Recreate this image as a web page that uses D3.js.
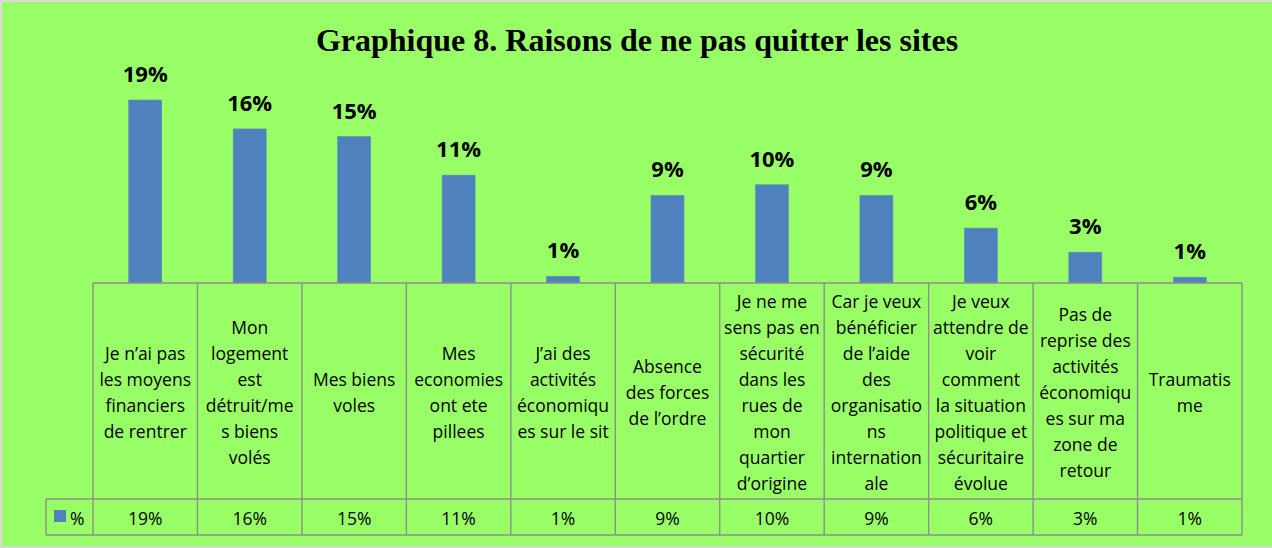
<!DOCTYPE html>
<html>
<head>
<meta charset="utf-8">
<script src="https://cdn.jsdelivr.net/npm/d3@7"></script>
<style>
  html, body { margin: 0; padding: 0; background: #99ff66; }
  svg { display: block; }
</style>
</head>
<body>
<svg id="chart" width="1272" height="548"></svg>
<script>
const title = "Graphique 8. Raisons de ne pas quitter les sites";
const seriesName = "%";
const categories = [
  "Je n’ai pas\nles moyens\nfinanciers\nde rentrer",
  "Mon\nlogement\nest\ndétruit/me\ns biens\nvolés",
  "Mes biens\nvoles",
  "Mes\neconomies\nont ete\npillees",
  "J’ai des\nactivités\néconomiqu\nes sur le sit",
  "Absence\ndes forces\nde l’ordre",
  "Je ne me\nsens pas en\nsécurité\ndans les\nrues de\nmon\nquartier\nd’origine",
  "Car je veux\nbénéficier\nde l’aide\ndes\norganisatio\nns\ninternation\nale",
  "Je veux\nattendre de\nvoir\ncomment\nla situation\npolitique et\nsécuritaire\névolue",
  "Pas de\nreprise des\nactivités\néconomiqu\nes sur ma\nzone de\nretour",
  "Traumatis\nme"
];
const values = [19.0, 16.0, 15.2, 11.2, 0.7, 9.1, 10.2, 9.1, 5.7, 3.2, 0.6];
const yDomain = [0, 20];

const svg = d3.select("#chart");
const W = 1272, H = 548;
const green = "#99ff66", blue = "#4f81bd", grid = "#8e8e8e";

// page frame
svg.append("rect").attr("x", 0).attr("y", 0).attr("width", W).attr("height", H).attr("fill", "#d9d9d9");
svg.append("rect").attr("x", 2).attr("y", 2).attr("width", W - 2).attr("height", H - 4).attr("fill", green);

const left = 93, right = 1242, base = 283, rowY = 499, bottom = 535, legendX = 46;
const idx = categories.map((d, i) => i);
const x = d3.scaleBand().domain(idx).range([left, right]).paddingInner(0).paddingOuter(0);
const xBar = d3.scaleBand().domain(idx).range([left, right]).paddingInner(0.684).paddingOuter(0.342);
const y = d3.scaleLinear().domain(yDomain).range([base, base - 192.6]);
const fmt = v => d3.format(".0f")(v) + "%";

// title
svg.append("text").attr("x", 637).attr("y", 51).attr("text-anchor", "middle")
  .attr("font-family", "'Liberation Serif', 'Times New Roman', serif").attr("font-weight", "bold")
  .attr("font-size", 32).attr("fill", "#000").text(title);

// bars
svg.append("g").selectAll("rect").data(values).join("rect")
  .attr("x", (d, i) => xBar(i)).attr("width", xBar.bandwidth())
  .attr("y", d => y(d)).attr("height", d => y(0) - y(d))
  .attr("fill", blue).attr("stroke", "#5a8cc8").attr("stroke-width", 0.6);

// data labels
svg.append("g").selectAll("text").data(values).join("text")
  .attr("x", (d, i) => x(i) + x.bandwidth() / 2).attr("y", d => y(d) - 18)
  .attr("text-anchor", "middle").attr("font-family", "'Open Sans', sans-serif")
  .attr("font-weight", "bold").attr("font-size", 22).attr("fill", "#000").text(d => fmt(d));

// table grid
const g = svg.append("g").attr("stroke", grid).attr("stroke-width", 1.4).attr("fill", "none");
g.append("line").attr("x1", left).attr("x2", right).attr("y1", base).attr("y2", base);
g.append("line").attr("x1", legendX).attr("x2", right).attr("y1", rowY).attr("y2", rowY);
g.append("line").attr("x1", legendX).attr("x2", right).attr("y1", bottom).attr("y2", bottom);
g.append("line").attr("x1", legendX).attr("x2", legendX).attr("y1", rowY).attr("y2", bottom);
const bounds = idx.map(i => x(i)).concat([right]);
g.selectAll("line.v").data(bounds).join("line").attr("class", "v")
  .attr("x1", d => d).attr("x2", d => d).attr("y1", base).attr("y2", bottom);

// category labels
const lineH = 26;
const catG = svg.append("g").attr("font-family", "'Open Sans', sans-serif").attr("font-size", 17.5).attr("fill", "#000");
categories.forEach((c, i) => {
  const lines = c.split("\n");
  const cy = (base + rowY) / 2 + 1;
  const t = catG.append("text").attr("text-anchor", "middle")
    .attr("x", x(i) + x.bandwidth() / 2)
    .attr("y", cy - (lines.length - 1) * lineH / 2)
    .attr("dominant-baseline", "central");
  lines.forEach((l, j) => {
    t.append("tspan").attr("x", x(i) + x.bandwidth() / 2).attr("dy", j === 0 ? 0 : lineH).text(l);
  });
});

// values row
svg.append("g").selectAll("text").data(values).join("text")
  .attr("x", (d, i) => x(i) + x.bandwidth() / 2).attr("y", (rowY + bottom) / 2 + 1)
  .attr("dominant-baseline", "central").attr("text-anchor", "middle")
  .attr("font-family", "'Open Sans', sans-serif").attr("font-size", 17.5).attr("fill", "#000")
  .text(d => fmt(d));

// legend
svg.append("rect").attr("x", 54).attr("y", 510).attr("width", 12).attr("height", 12).attr("fill", blue);
svg.append("text").attr("x", 70).attr("y", (rowY + bottom) / 2 + 1).attr("dominant-baseline", "central")
  .attr("font-family", "'Open Sans', sans-serif").attr("font-size", 17.5).attr("fill", "#000").text(seriesName);
</script>
</body>
</html>
